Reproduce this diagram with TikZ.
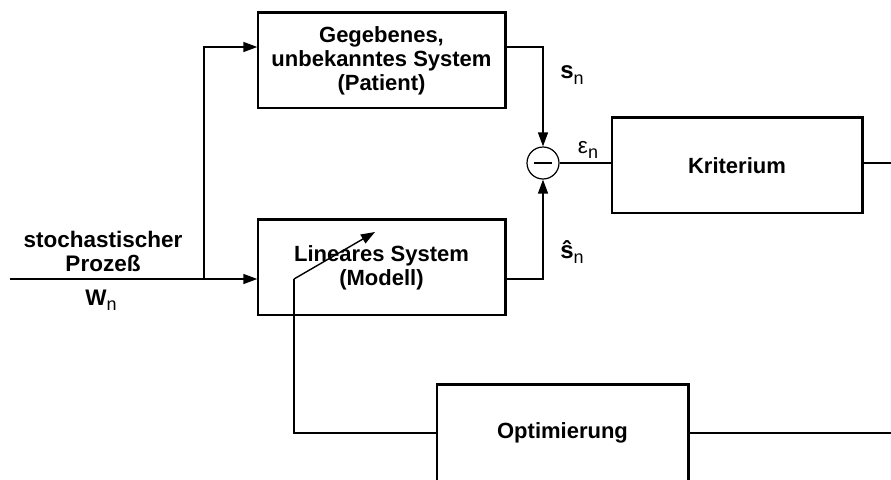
\documentclass[tikz,border=0pt]{standalone}
\usepackage{fontspec}
\setmainfont{Liberation Sans}
\usetikzlibrary{arrows.meta,calc}
\newcommand\subn[1]{\raisebox{-0.45ex}{\fontsize{18}{18}\selectfont\mdseries #1}}
\begin{document}
\begin{tikzpicture}[x=1pt,y=-1pt,
  blk/.style={draw,line width=1.4pt,minimum width=247pt,minimum height=95pt,align=center,font=\fontsize{22}{24}\selectfont\bfseries,inner sep=0pt},
  con/.style={line width=1.4pt},
  arr/.style={con,-{Triangle[length=14pt,width=10pt]}},
  lbl/.style={font=\fontsize{22.5}{24}\selectfont\bfseries,inner sep=0pt}]
\useasboundingbox (0,0) rectangle (891,479);
\clip (0,0) rectangle (891,479);
\node[blk] (sys) at (381.5,60.5) {Gegebenes,\\unbekanntes System\\(Patient)};
\node[blk] (mod) at (381.5,267.5) {Lineares System\\(Modell)};
\node[blk,minimum width=250pt] (krit) at (737,165.5) {Kriterium};
\node[blk,minimum width=251pt,minimum height=96pt] (opt) at (562.5,433) {Optimierung};
\node[draw,circle,line width=1.2pt,minimum size=32pt,inner sep=0pt] (sum) at (543,163) {};
\draw[line width=1.1pt] ($(sum.center)+(-9,0)$) -- ($(sum.center)+(9,0)$);
\foreach \n in {sys,mod,krit,opt}
  \draw[line width=3.5pt] (\n.north west) -- (\n.north east) -- (\n.south east);
% connectors
\coordinate (in) at (10,279);
\coordinate (br) at (204,279);
\draw[con] (in) -- (br);
\draw[arr] (br) -- (mod.west |- br);
\draw[arr] (br) |- ([yshift=13.5pt]sys.west);
\draw[arr] ([yshift=13.5pt]sys.east) -| (sum.north);
\draw[arr] ([yshift=-11.5pt]mod.east) -| (sum.south);
\draw[con] (sum.east) -- (sum.east -| krit.west);
\coordinate (kout) at (891,163);
\draw[con] (krit.east |- kout) -- (kout);
\coordinate (oout) at (891,433);
\draw[con] (opt.east) -- (oout);
\coordinate (fb) at (294,279);
\coordinate (tip) at (375,232);
\draw[con] (opt.west) -| (fb);
\draw[arr] (fb) -- (tip);
% labels
\node[lbl,align=center] (proc) at (103,251) {stochastischer\\Prozeß};
\node[lbl] (w) at (101,300) {W\subn{n}};
\node[lbl,font=\fontsize{24}{24}\selectfont\bfseries] (s) at (572,75) {s\subn{n}};
\node[lbl,font=\fontsize{24}{24}\selectfont\bfseries] (sh) at (572,252) {ŝ\subn{n}};
\node[lbl] (eps) at (588,150) {\mdseries ε\subn{n}};
\end{tikzpicture}
\end{document}
